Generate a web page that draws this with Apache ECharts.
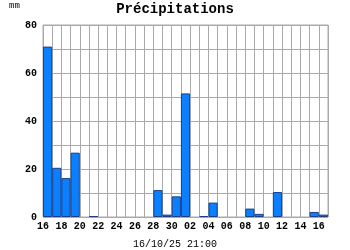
<!DOCTYPE html>
<html><head><meta charset="utf-8">
<script src="https://cdn.jsdelivr.net/npm/echarts@6/dist/echarts.min.js"></script>
<style>html,body{margin:0;padding:0;background:#fff}#c{width:350px;height:250px}</style>
</head><body><div id="c"></div>
<script>
var days = ['16','17','18','19','20','21','22','23','24','25','26','27','28','29','30','01','02','03','04','05','06','07','08','09','10','11','12','13','14','15','16'];
var tickLabels = ['16','18','20','22','24','26','28','30','02','04','06','08','10','12','14','16'];
var rain = [71,20.5,16.2,26.8,0,0.4,0,0,0,0,0,0,11.2,1,8.6,51.5,0,0.4,6,0,0,0,3.5,1.3,0,10.4,0,0,0,2.1,1];
var yTicks = [0,20,40,60,80];
var title = 'Précipitations';
var unit = 'mm';
var stamp = '16/10/25 21:00';

var font = '"Liberation Mono", "DejaVu Sans Mono", monospace';
var chart = echarts.init(document.getElementById('c'), null, {renderer:'canvas'});
chart.setOption({
  animation:false,
  title:[
    {text:title, left:'center', top:-3, textStyle:{fontFamily:font, fontSize:14, fontWeight:'bold', color:'#000'}},
    {text:unit, left:9, top:1, padding:0, textStyle:{fontFamily:font, fontSize:9, fontWeight:'normal', color:'#000'}},
    {text:stamp, left:'center', top:234, textStyle:{fontFamily:font, fontSize:10, fontWeight:'normal', color:'#000'}}
  ],
  grid:{left:43, right:22, top:25, bottom:33, show:true, borderColor:'#aaa', borderWidth:1},
  xAxis:[
    {type:'category', data:days, boundaryGap:true,
     axisLine:{show:false}, axisTick:{show:false}, axisLabel:{show:false},
     splitLine:{show:true, interval:0, lineStyle:{color:'#aaa', width:1}}},
    {type:'value', min:0, max:days.length, interval:1, position:'bottom',
     axisLine:{show:false}, axisTick:{show:false}, splitLine:{show:false},
     axisLabel:{show:true, margin:4, fontFamily:font, fontSize:10, fontWeight:'bold', color:'#000',
       showMinLabel:true, showMaxLabel:true,
       formatter:function(v){ return (v%2===0 && v/2 < tickLabels.length) ? tickLabels[v/2] : ''; }}}
  ],
  yAxis:{type:'value', min:yTicks[0], max:yTicks[yTicks.length-1], interval:10,
     axisLine:{show:false}, axisTick:{show:false},
     splitLine:{show:true, lineStyle:{color:'#aaa', width:1}},
     axisLabel:{margin:6, fontFamily:font, fontSize:10, fontWeight:'bold', color:'#000',
       formatter:function(v){ return yTicks.indexOf(v)>=0 ? String(v) : ''; }}},
  series:[{type:'bar', xAxisIndex:0, barWidth:'100%', barGap:'0%',
     data:rain.map(function(v){ return v>0 ? v : {value:v, itemStyle:{borderWidth:0, opacity:0}}; }),
     itemStyle:{color:'#0a80ff', borderColor:'#1a3e8a', borderWidth:1}}]
});
</script></body></html>
